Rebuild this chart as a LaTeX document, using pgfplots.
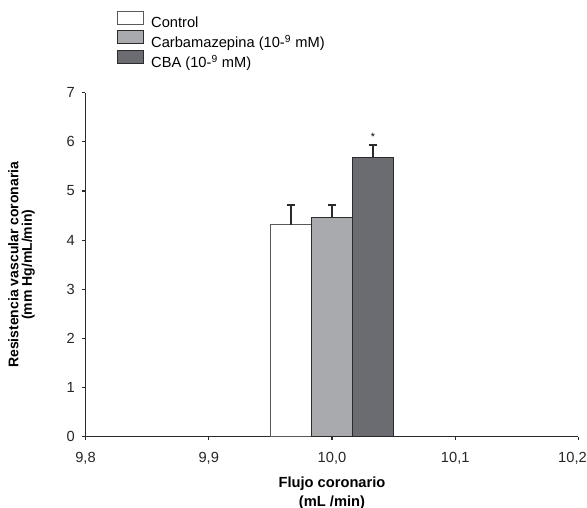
\documentclass[border=0pt]{standalone}
\usepackage{fontspec}
\setmainfont{Liberation Sans}
\usepackage{pgfplots}
\pgfplotsset{compat=1.18}

\definecolor{barcarba}{HTML}{A9AAAE}
\definecolor{barcba}{HTML}{6B6C71}
\definecolor{edge}{HTML}{2B2B2B}

\begin{document}
\begin{tikzpicture}
% page size fixed to the reference (587 x 508 px at 0.75pt/px)
\path[use as bounding box] (-64.125pt,-53.475pt) rectangle (376.125pt,327.525pt);
\begin{axis}[
    at={(0,0)}, anchor=south west,
    scale only axis,
    width=369.75pt, height=258pt,
    xmin=9.8, xmax=10.2,
    ymin=0, ymax=7,
    axis lines*=left,
    axis line style={edge, line width=1.1pt, -},
    tick align=outside,
    major tick length=2.5pt,
    tick style={edge, line width=0.8pt},
    xtick={9.8,9.9,10.0,10.1,10.2},
    xticklabels={{9,8},{9,9},{10,0},{10,1},{10,2\hspace*{9pt}}},
    ytick={0,1,...,7},
    /pgf/number format/assume math mode=true,
    ticklabel style={font=\fontsize{11}{13}\selectfont, text=black!85},
    xticklabel style={yshift=-6pt},
    yticklabel style={xshift=-2pt},
    xlabel={Flujo coronario\\(mL /min)},
    xlabel style={font=\fontsize{11}{14}\selectfont\bfseries, align=center,
        at={(axis description cs:0.5,0)}, anchor=north, inner sep=0pt, yshift=-30pt},
    ylabel={Resistencia vascular coronaria\\(mm Hg/mL/min)},
    ylabel style={font=\fontsize{10.5}{10}\selectfont\bfseries, align=center,
        at={(axis description cs:-0.1298,0.5)}, anchor=center, inner sep=0pt},
    legend style={at={(axis description cs:0.0639,1.2375)}, anchor=north west,
        draw=none, fill=none, inner sep=0pt, row sep=-0.5pt, column sep=5.25pt,
        nodes={inner sep=0pt, text depth=2.5pt},
        font=\fontsize{11}{13}\selectfont},
    legend cell align=left,
    legend image code/.code={\draw[#1] (0pt,-0.5pt) rectangle (19.5pt,9.25pt);},
    clip=false,
]
\addplot[ybar, bar width=0.03333, bar shift=0pt, fill=white, draw=black!65, line width=0.7pt,
    error bars/.cd, y dir=plus, y explicit,
    error bar style={edge, line width=1.4pt},
    error mark options={edge, rotate=90, mark size=3.25pt, line width=1.4pt}]
    coordinates {(9.96667,4.31) +- (0,0.41)};
\addlegendentry{Control}
\addplot[ybar, bar width=0.03333, bar shift=0pt, fill=barcarba, draw=edge, line width=0.7pt,
    error bars/.cd, y dir=plus, y explicit,
    error bar style={edge, line width=1.4pt},
    error mark options={edge, rotate=90, mark size=3.25pt, line width=1.4pt}]
    coordinates {(10.0,4.46) +- (0,0.26)};
\addlegendentry{Carbamazepina (10-\textsuperscript{9} mM)}
\addplot[ybar, bar width=0.03333, bar shift=0pt, fill=barcba, draw=edge, line width=0.7pt,
    error bars/.cd, y dir=plus, y explicit,
    error bar style={edge, line width=1.4pt},
    error mark options={edge, rotate=90, mark size=3.25pt, line width=1.4pt}]
    coordinates {(10.03333,5.69) +- (0,0.25)};
\addlegendentry{CBA (10-\textsuperscript{9} mM)}
\node[anchor=base, inner sep=0pt, font=\fontsize{8}{8}\selectfont, yshift=3.5pt]
    at (axis cs:10.03333,5.94) {*};
\end{axis}
\end{tikzpicture}
\end{document}
